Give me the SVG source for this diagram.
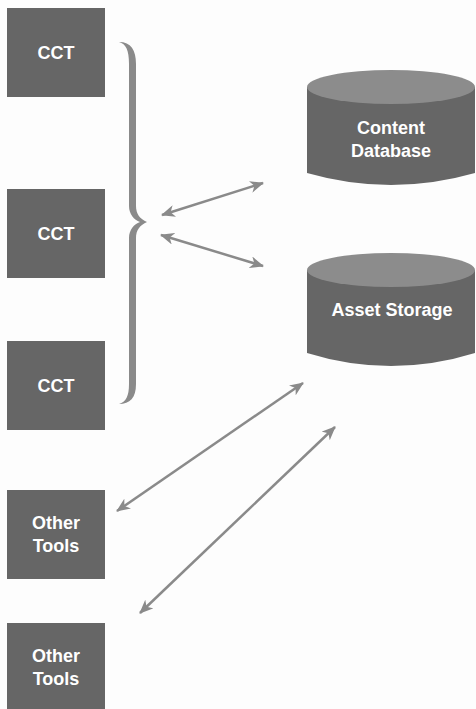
<svg xmlns="http://www.w3.org/2000/svg" width="476" height="709" viewBox="0 0 476 709">
<defs>
<style>
.box{fill:#666666}
.lbl{fill:#ffffff;font-family:"Liberation Sans",Arial,sans-serif;font-weight:bold;font-size:18px;text-anchor:middle}
.body{fill:#666666}
.top{fill:#8c8c8c}
.conn{stroke:#8a8a8a;stroke-width:2.5;fill:none;marker-start:url(#ah);marker-end:url(#ah)}
</style>
<marker id="ah" viewBox="0 0 14 12" refX="13" refY="6" markerWidth="14" markerHeight="12" markerUnits="userSpaceOnUse" orient="auto-start-reverse">
<path d="M0,0 L14,6 L0,12 L4,6 Z" fill="#8a8a8a"/>
</marker>
</defs>
<rect width="476" height="709" fill="#fdfdfd"/>
<g id="cct1"><rect class="box" x="7" y="8" width="98" height="89"/><text class="lbl" x="56" y="59">CCT</text></g>
<g id="cct2"><rect class="box" x="7" y="189" width="98" height="89"/><text class="lbl" x="56" y="240">CCT</text></g>
<g id="cct3"><rect class="box" x="7" y="341" width="98" height="89"/><text class="lbl" x="56" y="392">CCT</text></g>
<g id="tools1"><rect class="box" x="7" y="490" width="98" height="89"/><text class="lbl" x="56" y="529">Other</text><text class="lbl" x="56" y="552">Tools</text></g>
<g id="tools2"><rect class="box" x="7" y="623" width="98" height="89"/><text class="lbl" x="56" y="662">Other</text><text class="lbl" x="56" y="685">Tools</text></g>
<g id="contentdb">
<path class="body" d="M307,87 L475,87 L475,173 Q391,197 307,173 Z"/>
<ellipse class="top" cx="391" cy="87" rx="84" ry="17"/>
<text class="lbl" x="391" y="134">Content</text>
<text class="lbl" x="391" y="157">Database</text>
</g>
<g id="assetstorage">
<path class="body" d="M307,270 L475,270 L475,353 Q391,379 307,353 Z"/>
<ellipse class="top" cx="391" cy="270" rx="84" ry="17"/>
<text class="lbl" x="392" y="316">Asset Storage</text>
</g>
<g id="brace">
<path fill="#8a8a8a" d="M119,42 C131,42 136,50 136,64 L136,206 C136,214 140,219 147,222 C140,225 136,230 136,238 L136,384 C136,398 130,404 119,404 C126,402 129,396 129,384 L129,238 C129,230 134,224 140,222 C134,220 129,214 129,206 L129,64 C129,50 126,44 119,42 Z"/>
</g>
<g id="connectors">
<line class="conn" x1="162" y1="215" x2="263" y2="183"/>
<line class="conn" x1="161" y1="235" x2="263" y2="266"/>
<line class="conn" x1="117" y1="511" x2="303" y2="383"/>
<line class="conn" x1="140" y1="613" x2="335" y2="427"/>
</g>
</svg>
